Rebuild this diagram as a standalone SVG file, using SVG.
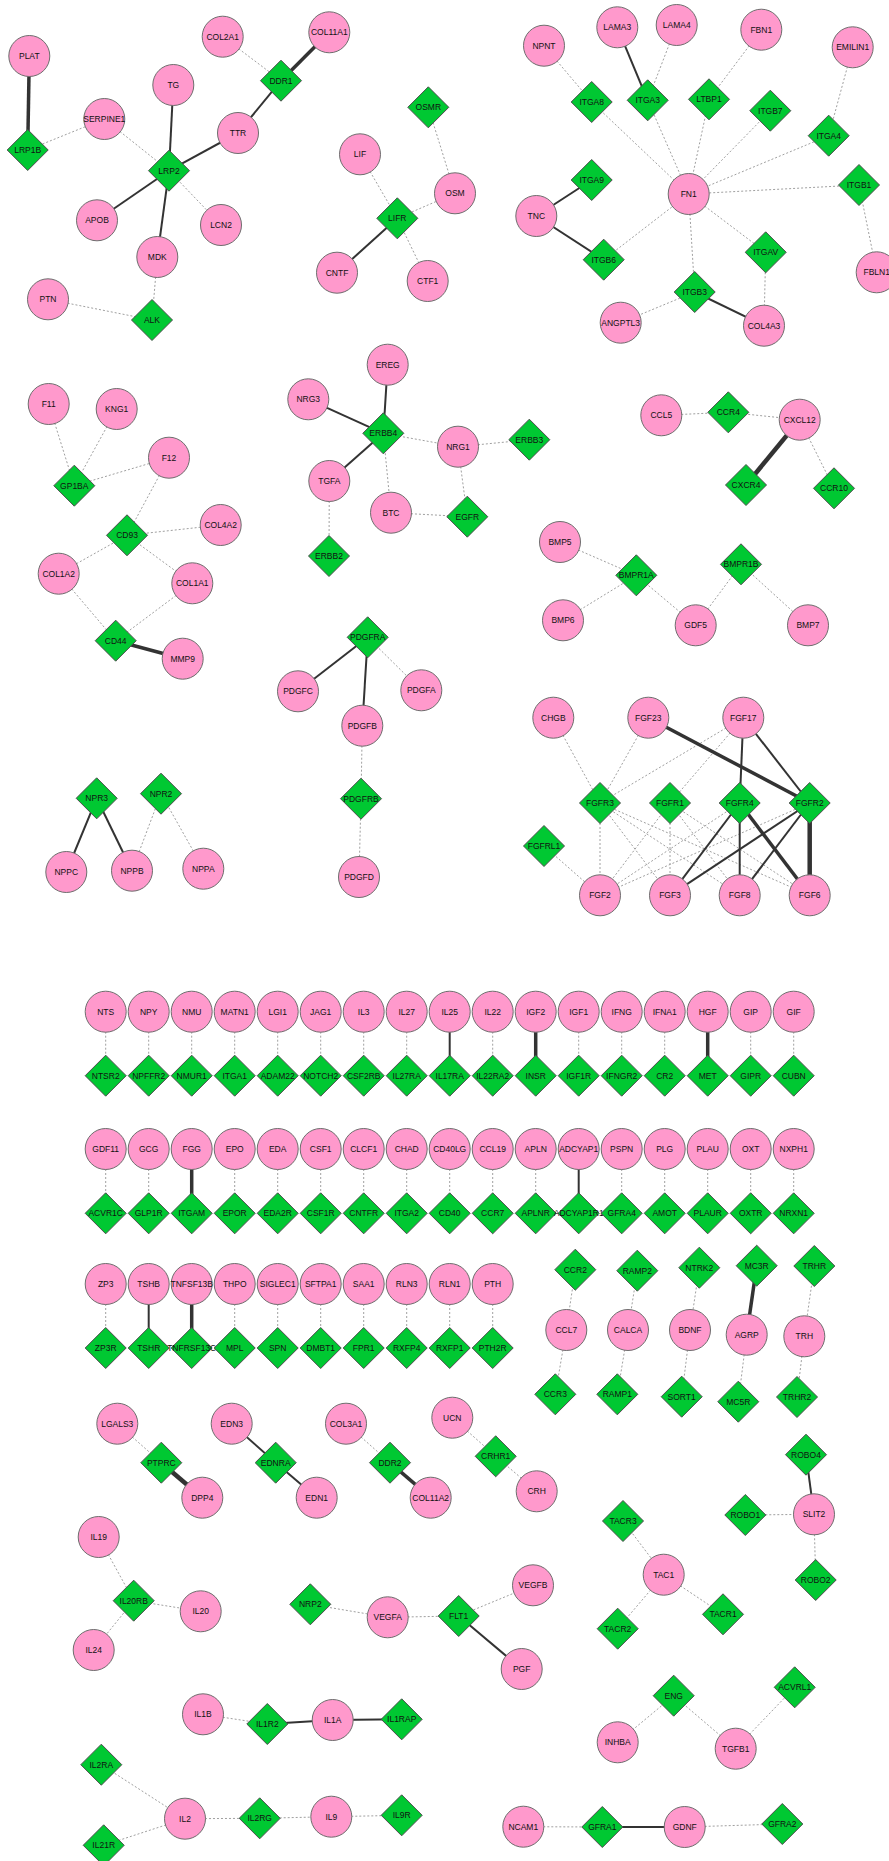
<svg xmlns="http://www.w3.org/2000/svg" xmlns:xlink="http://www.w3.org/1999/xlink" width="889" height="1861" viewBox="0 0 889 1861">
<style>
.bg{fill:#ffffff}
#edges line{stroke-linecap:butt}
.d{stroke:#a0a0a0;stroke-width:1;stroke-dasharray:2 2;fill:none}
.s{stroke:#333333;stroke-width:2;fill:none}
.t{stroke:#333333;stroke-width:3.5;fill:none}
.x{stroke:#333333;stroke-width:4.5;fill:none}
circle{fill:#ff99cc;stroke:#6e6e6e;stroke-width:1}
.r{fill:#00c832;stroke:#4d4d4d;stroke-width:1}
text{font-family:"Liberation Sans",Arial,sans-serif;font-size:8.5px;text-anchor:middle;fill:#111111}
</style>
<defs>
<path id="dia" d="M0,-20.5 L20.5,0 L0,20.5 L-20.5,0 Z"/>
</defs>
<rect class="bg" x="0" y="0" width="889" height="1861"/>

<g id="edges">
<!-- LRP2 / DDR1 / LIFR cluster -->
<line class="t" x1="29.3" y1="56" x2="27.7" y2="150"/>
<line class="d" x1="27.7" y1="150" x2="104.3" y2="119"/>
<line class="d" x1="104.3" y1="119" x2="169" y2="170.7"/>
<line class="s" x1="173.3" y1="85" x2="169" y2="170.7"/>
<line class="s" x1="238" y1="133" x2="169" y2="170.7"/>
<line class="s" x1="238" y1="133" x2="281" y2="80.7"/>
<line class="t" x1="281" y1="80.7" x2="329.3" y2="32.3"/>
<line class="d" x1="222.7" y1="36.7" x2="281" y2="80.7"/>
<line class="s" x1="169" y1="170.7" x2="97" y2="220.3"/>
<line class="d" x1="169" y1="170.7" x2="221" y2="225"/>
<line class="s" x1="169" y1="170.7" x2="157.3" y2="257"/>
<line class="d" x1="157.3" y1="257" x2="152" y2="320"/>
<line class="d" x1="48" y1="299.3" x2="152" y2="320"/>
<line class="d" x1="360" y1="154.3" x2="397.3" y2="218.3"/>
<line class="d" x1="397.3" y1="218.3" x2="455" y2="193.3"/>
<line class="d" x1="428.3" y1="107.3" x2="455" y2="193.3"/>
<line class="s" x1="397.3" y1="218.3" x2="337" y2="272.7"/>
<line class="d" x1="397.3" y1="218.3" x2="427.7" y2="281"/>
<!-- FN1 cluster -->
<line class="d" x1="544" y1="45.7" x2="591.7" y2="102"/>
<line class="d" x1="591.7" y1="102" x2="688.7" y2="194"/>
<line class="s" x1="617.3" y1="27.3" x2="647.7" y2="100.3"/>
<line class="d" x1="676.7" y1="25" x2="647.7" y2="100.3"/>
<line class="d" x1="647.7" y1="100.3" x2="688.7" y2="194"/>
<line class="d" x1="761.3" y1="29.7" x2="709" y2="99.3"/>
<line class="d" x1="709" y1="99.3" x2="688.7" y2="194"/>
<line class="d" x1="770.3" y1="110.7" x2="688.7" y2="194"/>
<line class="d" x1="852.7" y1="47.3" x2="828.7" y2="135.7"/>
<line class="d" x1="828.7" y1="135.7" x2="688.7" y2="194"/>
<line class="d" x1="859" y1="185" x2="688.7" y2="194"/>
<line class="d" x1="859" y1="185" x2="876.7" y2="272.3"/>
<line class="s" x1="591.7" y1="180" x2="536.3" y2="216"/>
<line class="s" x1="536.3" y1="216" x2="603.7" y2="259.7"/>
<line class="d" x1="603.7" y1="259.7" x2="688.7" y2="194"/>
<line class="d" x1="688.7" y1="194" x2="765.7" y2="252.3"/>
<line class="d" x1="688.7" y1="194" x2="694.7" y2="292"/>
<line class="d" x1="765.7" y1="252.3" x2="764" y2="325.7"/>
<line class="s" x1="694.7" y1="292" x2="764" y2="325.7"/>
<line class="d" x1="694.7" y1="292" x2="620.7" y2="322.7"/>
<!-- GP1BA / CD93 / CD44 -->
<line class="d" x1="48.7" y1="404" x2="74.3" y2="485.7"/>
<line class="d" x1="116.7" y1="409" x2="74.3" y2="485.7"/>
<line class="d" x1="74.3" y1="485.7" x2="169" y2="457.7"/>
<line class="d" x1="169" y1="457.7" x2="127" y2="535.3"/>
<line class="d" x1="127" y1="535.3" x2="220.7" y2="525"/>
<line class="d" x1="127" y1="535.3" x2="58.7" y2="573.7"/>
<line class="d" x1="127" y1="535.3" x2="192.3" y2="583.3"/>
<line class="d" x1="58.7" y1="573.7" x2="115.7" y2="640.7"/>
<line class="d" x1="192.3" y1="583.3" x2="115.7" y2="640.7"/>
<line class="t" x1="115.7" y1="640.7" x2="182.7" y2="658.7"/>
<!-- ERBB -->
<line class="s" x1="387.7" y1="364.7" x2="383.3" y2="433.3"/>
<line class="s" x1="308.3" y1="399.3" x2="383.3" y2="433.3"/>
<line class="s" x1="383.3" y1="433.3" x2="329.3" y2="481"/>
<line class="d" x1="383.3" y1="433.3" x2="458" y2="446.7"/>
<line class="d" x1="383.3" y1="433.3" x2="391" y2="512.7"/>
<line class="d" x1="329.3" y1="481" x2="329" y2="556"/>
<line class="d" x1="391" y1="512.7" x2="467.3" y2="516.7"/>
<line class="d" x1="458" y1="446.7" x2="529.3" y2="439.7"/>
<line class="d" x1="458" y1="446.7" x2="467.3" y2="516.7"/>
<!-- PDGF -->
<line class="s" x1="367.7" y1="637.3" x2="298" y2="691.3"/>
<line class="s" x1="367.7" y1="637.3" x2="362.3" y2="725.7"/>
<line class="d" x1="367.7" y1="637.3" x2="421.3" y2="690.3"/>
<line class="d" x1="362.3" y1="725.7" x2="361" y2="798.7"/>
<line class="d" x1="361" y1="798.7" x2="359" y2="877"/>
<!-- NPR -->
<line class="s" x1="96.7" y1="798.3" x2="66.3" y2="872"/>
<line class="s" x1="96.7" y1="798.3" x2="132" y2="870.7"/>
<line class="d" x1="161" y1="793.7" x2="132" y2="870.7"/>
<line class="d" x1="161" y1="793.7" x2="203.3" y2="868.7"/>
<!-- chemokines -->
<line class="d" x1="661.3" y1="415.3" x2="728.3" y2="412.3"/>
<line class="d" x1="728.3" y1="412.3" x2="799.7" y2="419.7"/>
<line class="x" x1="799.7" y1="419.7" x2="746" y2="485"/>
<line class="d" x1="799.7" y1="419.7" x2="834" y2="488.3"/>
<!-- BMP -->
<line class="d" x1="560" y1="542" x2="636.3" y2="575.3"/>
<line class="d" x1="636.3" y1="575.3" x2="563" y2="620.3"/>
<line class="d" x1="636.3" y1="575.3" x2="695.7" y2="625.3"/>
<line class="d" x1="695.7" y1="625.3" x2="741" y2="564.3"/>
<line class="d" x1="741" y1="564.3" x2="808" y2="625.3"/>
<!-- FGF -->
<line class="d" x1="553.3" y1="717.7" x2="600" y2="803"/>
<line class="d" x1="648.3" y1="717.7" x2="600" y2="803"/>
<line class="d" x1="743.3" y1="717.7" x2="600" y2="803"/>
<line class="d" x1="743.3" y1="717.7" x2="670" y2="803"/>
<line class="d" x1="600" y1="803" x2="600" y2="895.3"/>
<line class="d" x1="600" y1="803" x2="670" y2="895.3"/>
<line class="d" x1="600" y1="803" x2="739.7" y2="895.3"/>
<line class="d" x1="600" y1="803" x2="809.7" y2="895.3"/>
<line class="d" x1="670" y1="803" x2="600" y2="895.3"/>
<line class="d" x1="670" y1="803" x2="670" y2="895.3"/>
<line class="d" x1="670" y1="803" x2="739.7" y2="895.3"/>
<line class="d" x1="670" y1="803" x2="809.7" y2="895.3"/>
<line class="d" x1="739.7" y1="803" x2="600" y2="895.3"/>
<line class="d" x1="809.7" y1="803" x2="600" y2="895.3"/>
<line class="d" x1="544" y1="846" x2="600" y2="895.3"/>
<line class="t" x1="648.3" y1="717.7" x2="809.7" y2="803"/>
<line class="s" x1="743.3" y1="717.7" x2="739.7" y2="803"/>
<line class="s" x1="743.3" y1="717.7" x2="809.7" y2="803"/>
<line class="s" x1="739.7" y1="803" x2="670" y2="895.3"/>
<line class="s" x1="739.7" y1="803" x2="739.7" y2="895.3"/>
<line class="t" x1="739.7" y1="803" x2="809.7" y2="895.3"/>
<line class="s" x1="809.7" y1="803" x2="670" y2="895.3"/>
<line class="s" x1="809.7" y1="803" x2="739.7" y2="895.3"/>
<line class="x" x1="809.7" y1="803" x2="809.7" y2="895.3"/>
<!-- ligand / receptor rows -->
<line class="d" x1="105.7" y1="1011.7" x2="105.7" y2="1075.7"/>
<line class="d" x1="148.7" y1="1011.7" x2="148.7" y2="1075.7"/>
<line class="d" x1="191.7" y1="1011.7" x2="191.7" y2="1075.7"/>
<line class="d" x1="234.7" y1="1011.7" x2="234.7" y2="1075.7"/>
<line class="d" x1="277.7" y1="1011.7" x2="277.7" y2="1075.7"/>
<line class="d" x1="320.7" y1="1011.7" x2="320.7" y2="1075.7"/>
<line class="d" x1="363.7" y1="1011.7" x2="363.7" y2="1075.7"/>
<line class="d" x1="406.7" y1="1011.7" x2="406.7" y2="1075.7"/>
<line class="s" x1="449.7" y1="1011.7" x2="449.7" y2="1075.7"/>
<line class="d" x1="492.7" y1="1011.7" x2="492.7" y2="1075.7"/>
<line class="t" x1="535.7" y1="1011.7" x2="535.7" y2="1075.7"/>
<line class="d" x1="578.7" y1="1011.7" x2="578.7" y2="1075.7"/>
<line class="d" x1="621.7" y1="1011.7" x2="621.7" y2="1075.7"/>
<line class="d" x1="664.7" y1="1011.7" x2="664.7" y2="1075.7"/>
<line class="t" x1="707.7" y1="1011.7" x2="707.7" y2="1075.7"/>
<line class="d" x1="750.7" y1="1011.7" x2="750.7" y2="1075.7"/>
<line class="d" x1="793.7" y1="1011.7" x2="793.7" y2="1075.7"/>

<line class="d" x1="105.7" y1="1149" x2="105.7" y2="1213.3"/>
<line class="d" x1="148.7" y1="1149" x2="148.7" y2="1213.3"/>
<line class="t" x1="191.7" y1="1149" x2="191.7" y2="1213.3"/>
<line class="d" x1="234.7" y1="1149" x2="234.7" y2="1213.3"/>
<line class="d" x1="277.7" y1="1149" x2="277.7" y2="1213.3"/>
<line class="d" x1="320.7" y1="1149" x2="320.7" y2="1213.3"/>
<line class="d" x1="363.7" y1="1149" x2="363.7" y2="1213.3"/>
<line class="d" x1="406.7" y1="1149" x2="406.7" y2="1213.3"/>
<line class="d" x1="449.7" y1="1149" x2="449.7" y2="1213.3"/>
<line class="d" x1="492.7" y1="1149" x2="492.7" y2="1213.3"/>
<line class="d" x1="535.7" y1="1149" x2="535.7" y2="1213.3"/>
<line class="s" x1="578.7" y1="1149" x2="578.7" y2="1213.3"/>
<line class="d" x1="621.7" y1="1149" x2="621.7" y2="1213.3"/>
<line class="d" x1="664.7" y1="1149" x2="664.7" y2="1213.3"/>
<line class="d" x1="707.7" y1="1149" x2="707.7" y2="1213.3"/>
<line class="d" x1="750.7" y1="1149" x2="750.7" y2="1213.3"/>
<line class="d" x1="793.7" y1="1149" x2="793.7" y2="1213.3"/>

<line class="d" x1="105.7" y1="1284" x2="105.7" y2="1348"/>
<line class="s" x1="148.7" y1="1284" x2="148.7" y2="1348"/>
<line class="t" x1="191.7" y1="1284" x2="191.7" y2="1348"/>
<line class="d" x1="234.7" y1="1284" x2="234.7" y2="1348"/>
<line class="d" x1="277.7" y1="1284" x2="277.7" y2="1348"/>
<line class="d" x1="320.7" y1="1284" x2="320.7" y2="1348"/>
<line class="d" x1="363.7" y1="1284" x2="363.7" y2="1348"/>
<line class="d" x1="406.7" y1="1284" x2="406.7" y2="1348"/>
<line class="d" x1="449.7" y1="1284" x2="449.7" y2="1348"/>
<line class="d" x1="492.7" y1="1284" x2="492.7" y2="1348"/>
<!-- lower small clusters -->
<line class="d" x1="117.3" y1="1423.7" x2="161.3" y2="1462.7"/>
<line class="x" x1="161.3" y1="1462.7" x2="202.3" y2="1497.7"/>
<line class="s" x1="231.7" y1="1423.7" x2="275.7" y2="1462.7"/>
<line class="s" x1="275.7" y1="1462.7" x2="316.7" y2="1497.7"/>
<line class="d" x1="346" y1="1423.7" x2="390" y2="1462.7"/>
<line class="t" x1="390" y1="1462.7" x2="430.7" y2="1497.7"/>
<line class="d" x1="452.3" y1="1417.7" x2="495.7" y2="1456.3"/>
<line class="d" x1="495.7" y1="1456.3" x2="536.7" y2="1491.3"/>
<line class="d" x1="575.3" y1="1269.7" x2="566.3" y2="1330"/>
<line class="d" x1="566.3" y1="1330" x2="555.3" y2="1394.3"/>
<line class="d" x1="637.3" y1="1270.7" x2="628" y2="1330"/>
<line class="d" x1="628" y1="1330" x2="617.3" y2="1394.3"/>
<line class="d" x1="699.3" y1="1267.7" x2="690" y2="1330"/>
<line class="d" x1="690" y1="1330" x2="681.7" y2="1396.7"/>
<line class="t" x1="756.7" y1="1265.7" x2="746.7" y2="1334.7"/>
<line class="d" x1="746.7" y1="1334.7" x2="738.3" y2="1401.7"/>
<line class="d" x1="814.3" y1="1266" x2="804.3" y2="1336.3"/>
<line class="d" x1="804.3" y1="1336.3" x2="797" y2="1397"/>
<line class="s" x1="806" y1="1454.7" x2="814" y2="1514.3"/>
<line class="d" x1="745.3" y1="1515" x2="814" y2="1514.3"/>
<line class="d" x1="814" y1="1514.3" x2="815.7" y2="1580"/>
<line class="d" x1="623" y1="1521" x2="663.7" y2="1574.7"/>
<line class="d" x1="663.7" y1="1574.7" x2="617.7" y2="1628.7"/>
<line class="d" x1="663.7" y1="1574.7" x2="723" y2="1614.3"/>
<line class="d" x1="98.7" y1="1537" x2="133.7" y2="1600.7"/>
<line class="d" x1="133.7" y1="1600.7" x2="200.7" y2="1611.3"/>
<line class="d" x1="133.7" y1="1600.7" x2="93.7" y2="1650"/>
<line class="d" x1="310.3" y1="1604.3" x2="387.7" y2="1617.3"/>
<line class="d" x1="387.7" y1="1617.3" x2="458.7" y2="1616"/>
<line class="d" x1="458.7" y1="1616" x2="533" y2="1585.3"/>
<line class="s" x1="458.7" y1="1616" x2="521.7" y2="1669"/>
<line class="d" x1="203" y1="1714.3" x2="267.3" y2="1724"/>
<line class="s" x1="267.3" y1="1724" x2="332.7" y2="1720"/>
<line class="s" x1="332.7" y1="1720" x2="401.7" y2="1719.3"/>
<line class="d" x1="101.3" y1="1764.7" x2="185" y2="1818.7"/>
<line class="d" x1="185" y1="1818.7" x2="103.7" y2="1845.3"/>
<line class="d" x1="185" y1="1818.7" x2="259.7" y2="1818.3"/>
<line class="d" x1="259.7" y1="1818.3" x2="331.3" y2="1816.7"/>
<line class="d" x1="331.3" y1="1816.7" x2="401.7" y2="1815.3"/>
<line class="d" x1="673.7" y1="1695.7" x2="617.7" y2="1742.3"/>
<line class="d" x1="673.7" y1="1695.7" x2="735.7" y2="1748.7"/>
<line class="d" x1="735.7" y1="1748.7" x2="794.7" y2="1687.3"/>
<line class="d" x1="523.3" y1="1826.7" x2="602.3" y2="1827"/>
<line class="s" x1="602.3" y1="1827" x2="684.7" y2="1827"/>
<line class="d" x1="684.7" y1="1827" x2="782.3" y2="1824"/>
</g>

<g id="nodes">
<!-- ligands (circles) -->
<g id="n_PLAT"><circle cx="29.3" cy="56" r="20.5"/><text x="29.3" y="59">PLAT</text></g>
<g id="n_COL2A1"><circle cx="222.7" cy="36.7" r="20.5"/><text x="222.7" y="39.7">COL2A1</text></g>
<g id="n_COL11A1"><circle cx="329.3" cy="32.3" r="20.5"/><text x="329.3" y="35.3">COL11A1</text></g>
<g id="n_TG"><circle cx="173.3" cy="85" r="20.5"/><text x="173.3" y="88">TG</text></g>
<g id="n_SERPINE1"><circle cx="104.3" cy="119" r="20.5"/><text x="104.3" y="122">SERPINE1</text></g>
<g id="n_TTR"><circle cx="238" cy="133" r="20.5"/><text x="238" y="136">TTR</text></g>
<g id="n_LIF"><circle cx="360" cy="154.3" r="20.5"/><text x="360" y="157.3">LIF</text></g>
<g id="n_OSM"><circle cx="455" cy="193.3" r="20.5"/><text x="455" y="196.3">OSM</text></g>
<g id="n_APOB"><circle cx="97" cy="220.3" r="20.5"/><text x="97" y="223.3">APOB</text></g>
<g id="n_LCN2"><circle cx="221" cy="225" r="20.5"/><text x="221" y="228">LCN2</text></g>
<g id="n_MDK"><circle cx="157.3" cy="257" r="20.5"/><text x="157.3" y="260">MDK</text></g>
<g id="n_CNTF"><circle cx="337" cy="272.7" r="20.5"/><text x="337" y="275.7">CNTF</text></g>
<g id="n_CTF1"><circle cx="427.7" cy="281" r="20.5"/><text x="427.7" y="284">CTF1</text></g>
<g id="n_PTN"><circle cx="48" cy="299.3" r="20.5"/><text x="48" y="302.3">PTN</text></g>
<g id="n_NPNT"><circle cx="544" cy="45.7" r="20.5"/><text x="544" y="48.7">NPNT</text></g>
<g id="n_LAMA3"><circle cx="617.3" cy="27.3" r="20.5"/><text x="617.3" y="30.3">LAMA3</text></g>
<g id="n_LAMA4"><circle cx="676.7" cy="25" r="20.5"/><text x="676.7" y="28">LAMA4</text></g>
<g id="n_FBN1"><circle cx="761.3" cy="29.7" r="20.5"/><text x="761.3" y="32.7">FBN1</text></g>
<g id="n_EMILIN1"><circle cx="852.7" cy="47.3" r="20.5"/><text x="852.7" y="50.3">EMILIN1</text></g>
<g id="n_FN1"><circle cx="688.7" cy="194" r="20.5"/><text x="688.7" y="197">FN1</text></g>
<g id="n_TNC"><circle cx="536.3" cy="216" r="20.5"/><text x="536.3" y="219">TNC</text></g>
<g id="n_FBLN1"><circle cx="876.7" cy="272.3" r="20.5"/><text x="876.7" y="275.3">FBLN1</text></g>
<g id="n_ANGPTL3"><circle cx="620.7" cy="322.7" r="20.5"/><text x="620.7" y="325.7">ANGPTL3</text></g>
<g id="n_COL4A3"><circle cx="764" cy="325.7" r="20.5"/><text x="764" y="328.7">COL4A3</text></g>
<g id="n_F11"><circle cx="48.7" cy="404" r="20.5"/><text x="48.7" y="407">F11</text></g>
<g id="n_KNG1"><circle cx="116.7" cy="409" r="20.5"/><text x="116.7" y="412">KNG1</text></g>
<g id="n_F12"><circle cx="169" cy="457.7" r="20.5"/><text x="169" y="460.7">F12</text></g>
<g id="n_COL4A2"><circle cx="220.7" cy="525" r="20.5"/><text x="220.7" y="528">COL4A2</text></g>
<g id="n_COL1A2"><circle cx="58.7" cy="573.7" r="20.5"/><text x="58.7" y="576.7">COL1A2</text></g>
<g id="n_COL1A1"><circle cx="192.3" cy="583.3" r="20.5"/><text x="192.3" y="586.3">COL1A1</text></g>
<g id="n_MMP9"><circle cx="182.7" cy="658.7" r="20.5"/><text x="182.7" y="661.7">MMP9</text></g>
<g id="n_EREG"><circle cx="387.7" cy="364.7" r="20.5"/><text x="387.7" y="367.7">EREG</text></g>
<g id="n_NRG3"><circle cx="308.3" cy="399.3" r="20.5"/><text x="308.3" y="402.3">NRG3</text></g>
<g id="n_TGFA"><circle cx="329.3" cy="481" r="20.5"/><text x="329.3" y="484">TGFA</text></g>
<g id="n_BTC"><circle cx="391" cy="512.7" r="20.5"/><text x="391" y="515.7">BTC</text></g>
<g id="n_NRG1"><circle cx="458" cy="446.7" r="20.5"/><text x="458" y="449.7">NRG1</text></g>
<g id="n_CCL5"><circle cx="661.3" cy="415.3" r="20.5"/><text x="661.3" y="418.3">CCL5</text></g>
<g id="n_CXCL12"><circle cx="799.7" cy="419.7" r="20.5"/><text x="799.7" y="422.7">CXCL12</text></g>
<g id="n_BMP5"><circle cx="560" cy="542" r="20.5"/><text x="560" y="545">BMP5</text></g>
<g id="n_BMP6"><circle cx="563" cy="620.3" r="20.5"/><text x="563" y="623.3">BMP6</text></g>
<g id="n_GDF5"><circle cx="695.7" cy="625.3" r="20.5"/><text x="695.7" y="628.3">GDF5</text></g>
<g id="n_BMP7"><circle cx="808" cy="625.3" r="20.5"/><text x="808" y="628.3">BMP7</text></g>
<g id="n_PDGFC"><circle cx="298" cy="691.3" r="20.5"/><text x="298" y="694.3">PDGFC</text></g>
<g id="n_PDGFA"><circle cx="421.3" cy="690.3" r="20.5"/><text x="421.3" y="693.3">PDGFA</text></g>
<g id="n_PDGFB"><circle cx="362.3" cy="725.7" r="20.5"/><text x="362.3" y="728.7">PDGFB</text></g>
<g id="n_PDGFD"><circle cx="359" cy="877" r="20.5"/><text x="359" y="880">PDGFD</text></g>
<g id="n_NPPC"><circle cx="66.3" cy="872" r="20.5"/><text x="66.3" y="875">NPPC</text></g>
<g id="n_NPPB"><circle cx="132" cy="870.7" r="20.5"/><text x="132" y="873.7">NPPB</text></g>
<g id="n_NPPA"><circle cx="203.3" cy="868.7" r="20.5"/><text x="203.3" y="871.7">NPPA</text></g>
<g id="n_CHGB"><circle cx="553.3" cy="717.7" r="20.5"/><text x="553.3" y="720.7">CHGB</text></g>
<g id="n_FGF23"><circle cx="648.3" cy="717.7" r="20.5"/><text x="648.3" y="720.7">FGF23</text></g>
<g id="n_FGF17"><circle cx="743.3" cy="717.7" r="20.5"/><text x="743.3" y="720.7">FGF17</text></g>
<g id="n_FGF2"><circle cx="600" cy="895.3" r="20.5"/><text x="600" y="898.3">FGF2</text></g>
<g id="n_FGF3"><circle cx="670" cy="895.3" r="20.5"/><text x="670" y="898.3">FGF3</text></g>
<g id="n_FGF8"><circle cx="739.7" cy="895.3" r="20.5"/><text x="739.7" y="898.3">FGF8</text></g>
<g id="n_FGF6"><circle cx="809.7" cy="895.3" r="20.5"/><text x="809.7" y="898.3">FGF6</text></g>

<g id="n_NTS"><circle cx="105.7" cy="1011.7" r="20.5"/><text x="105.7" y="1014.7">NTS</text></g>
<g id="n_NPY"><circle cx="148.7" cy="1011.7" r="20.5"/><text x="148.7" y="1014.7">NPY</text></g>
<g id="n_NMU"><circle cx="191.7" cy="1011.7" r="20.5"/><text x="191.7" y="1014.7">NMU</text></g>
<g id="n_MATN1"><circle cx="234.7" cy="1011.7" r="20.5"/><text x="234.7" y="1014.7">MATN1</text></g>
<g id="n_LGI1"><circle cx="277.7" cy="1011.7" r="20.5"/><text x="277.7" y="1014.7">LGI1</text></g>
<g id="n_JAG1"><circle cx="320.7" cy="1011.7" r="20.5"/><text x="320.7" y="1014.7">JAG1</text></g>
<g id="n_IL3"><circle cx="363.7" cy="1011.7" r="20.5"/><text x="363.7" y="1014.7">IL3</text></g>
<g id="n_IL27"><circle cx="406.7" cy="1011.7" r="20.5"/><text x="406.7" y="1014.7">IL27</text></g>
<g id="n_IL25"><circle cx="449.7" cy="1011.7" r="20.5"/><text x="449.7" y="1014.7">IL25</text></g>
<g id="n_IL22"><circle cx="492.7" cy="1011.7" r="20.5"/><text x="492.7" y="1014.7">IL22</text></g>
<g id="n_IGF2"><circle cx="535.7" cy="1011.7" r="20.5"/><text x="535.7" y="1014.7">IGF2</text></g>
<g id="n_IGF1"><circle cx="578.7" cy="1011.7" r="20.5"/><text x="578.7" y="1014.7">IGF1</text></g>
<g id="n_IFNG"><circle cx="621.7" cy="1011.7" r="20.5"/><text x="621.7" y="1014.7">IFNG</text></g>
<g id="n_IFNA1"><circle cx="664.7" cy="1011.7" r="20.5"/><text x="664.7" y="1014.7">IFNA1</text></g>
<g id="n_HGF"><circle cx="707.7" cy="1011.7" r="20.5"/><text x="707.7" y="1014.7">HGF</text></g>
<g id="n_GIP"><circle cx="750.7" cy="1011.7" r="20.5"/><text x="750.7" y="1014.7">GIP</text></g>
<g id="n_GIF"><circle cx="793.7" cy="1011.7" r="20.5"/><text x="793.7" y="1014.7">GIF</text></g>

<g id="n_GDF11"><circle cx="105.7" cy="1149" r="20.5"/><text x="105.7" y="1152">GDF11</text></g>
<g id="n_GCG"><circle cx="148.7" cy="1149" r="20.5"/><text x="148.7" y="1152">GCG</text></g>
<g id="n_FGG"><circle cx="191.7" cy="1149" r="20.5"/><text x="191.7" y="1152">FGG</text></g>
<g id="n_EPO"><circle cx="234.7" cy="1149" r="20.5"/><text x="234.7" y="1152">EPO</text></g>
<g id="n_EDA"><circle cx="277.7" cy="1149" r="20.5"/><text x="277.7" y="1152">EDA</text></g>
<g id="n_CSF1"><circle cx="320.7" cy="1149" r="20.5"/><text x="320.7" y="1152">CSF1</text></g>
<g id="n_CLCF1"><circle cx="363.7" cy="1149" r="20.5"/><text x="363.7" y="1152">CLCF1</text></g>
<g id="n_CHAD"><circle cx="406.7" cy="1149" r="20.5"/><text x="406.7" y="1152">CHAD</text></g>
<g id="n_CD40LG"><circle cx="449.7" cy="1149" r="20.5"/><text x="449.7" y="1152">CD40LG</text></g>
<g id="n_CCL19"><circle cx="492.7" cy="1149" r="20.5"/><text x="492.7" y="1152">CCL19</text></g>
<g id="n_APLN"><circle cx="535.7" cy="1149" r="20.5"/><text x="535.7" y="1152">APLN</text></g>
<g id="n_ADCYAP1"><circle cx="578.7" cy="1149" r="20.5"/><text x="578.7" y="1152">ADCYAP1</text></g>
<g id="n_PSPN"><circle cx="621.7" cy="1149" r="20.5"/><text x="621.7" y="1152">PSPN</text></g>
<g id="n_PLG"><circle cx="664.7" cy="1149" r="20.5"/><text x="664.7" y="1152">PLG</text></g>
<g id="n_PLAU"><circle cx="707.7" cy="1149" r="20.5"/><text x="707.7" y="1152">PLAU</text></g>
<g id="n_OXT"><circle cx="750.7" cy="1149" r="20.5"/><text x="750.7" y="1152">OXT</text></g>
<g id="n_NXPH1"><circle cx="793.7" cy="1149" r="20.5"/><text x="793.7" y="1152">NXPH1</text></g>

<g id="n_ZP3"><circle cx="105.7" cy="1284" r="20.5"/><text x="105.7" y="1287">ZP3</text></g>
<g id="n_TSHB"><circle cx="148.7" cy="1284" r="20.5"/><text x="148.7" y="1287">TSHB</text></g>
<g id="n_TNFSF13B"><circle cx="191.7" cy="1284" r="20.5"/><text x="191.7" y="1287">TNFSF13B</text></g>
<g id="n_THPO"><circle cx="234.7" cy="1284" r="20.5"/><text x="234.7" y="1287">THPO</text></g>
<g id="n_SIGLEC1"><circle cx="277.7" cy="1284" r="20.5"/><text x="277.7" y="1287">SIGLEC1</text></g>
<g id="n_SFTPA1"><circle cx="320.7" cy="1284" r="20.5"/><text x="320.7" y="1287">SFTPA1</text></g>
<g id="n_SAA1"><circle cx="363.7" cy="1284" r="20.5"/><text x="363.7" y="1287">SAA1</text></g>
<g id="n_RLN3"><circle cx="406.7" cy="1284" r="20.5"/><text x="406.7" y="1287">RLN3</text></g>
<g id="n_RLN1"><circle cx="449.7" cy="1284" r="20.5"/><text x="449.7" y="1287">RLN1</text></g>
<g id="n_PTH"><circle cx="492.7" cy="1284" r="20.5"/><text x="492.7" y="1287">PTH</text></g>

<g id="n_LGALS3"><circle cx="117.3" cy="1423.7" r="20.5"/><text x="117.3" y="1426.7">LGALS3</text></g>
<g id="n_DPP4"><circle cx="202.3" cy="1497.7" r="20.5"/><text x="202.3" y="1500.7">DPP4</text></g>
<g id="n_EDN3"><circle cx="231.7" cy="1423.7" r="20.5"/><text x="231.7" y="1426.7">EDN3</text></g>
<g id="n_EDN1"><circle cx="316.7" cy="1497.7" r="20.5"/><text x="316.7" y="1500.7">EDN1</text></g>
<g id="n_COL3A1"><circle cx="346" cy="1423.7" r="20.5"/><text x="346" y="1426.7">COL3A1</text></g>
<g id="n_COL11A2"><circle cx="430.7" cy="1497.7" r="20.5"/><text x="430.7" y="1500.7">COL11A2</text></g>
<g id="n_UCN"><circle cx="452.3" cy="1417.7" r="20.5"/><text x="452.3" y="1420.7">UCN</text></g>
<g id="n_CRH"><circle cx="536.7" cy="1491.3" r="20.5"/><text x="536.7" y="1494.3">CRH</text></g>
<g id="n_CCL7"><circle cx="566.3" cy="1330" r="20.5"/><text x="566.3" y="1333">CCL7</text></g>
<g id="n_CALCA"><circle cx="628" cy="1330" r="20.5"/><text x="628" y="1333">CALCA</text></g>
<g id="n_BDNF"><circle cx="690" cy="1330" r="20.5"/><text x="690" y="1333">BDNF</text></g>
<g id="n_AGRP"><circle cx="746.7" cy="1334.7" r="20.5"/><text x="746.7" y="1337.7">AGRP</text></g>
<g id="n_TRH"><circle cx="804.3" cy="1336.3" r="20.5"/><text x="804.3" y="1339.3">TRH</text></g>
<g id="n_SLIT2"><circle cx="814" cy="1514.3" r="20.5"/><text x="814" y="1517.3">SLIT2</text></g>
<g id="n_TAC1"><circle cx="663.7" cy="1574.7" r="20.5"/><text x="663.7" y="1577.7">TAC1</text></g>
<g id="n_IL19"><circle cx="98.7" cy="1537" r="20.5"/><text x="98.7" y="1540">IL19</text></g>
<g id="n_IL20"><circle cx="200.7" cy="1611.3" r="20.5"/><text x="200.7" y="1614.3">IL20</text></g>
<g id="n_IL24"><circle cx="93.7" cy="1650" r="20.5"/><text x="93.7" y="1653">IL24</text></g>
<g id="n_VEGFA"><circle cx="387.7" cy="1617.3" r="20.5"/><text x="387.7" y="1620.3">VEGFA</text></g>
<g id="n_VEGFB"><circle cx="533" cy="1585.3" r="20.5"/><text x="533" y="1588.3">VEGFB</text></g>
<g id="n_PGF"><circle cx="521.7" cy="1669" r="20.5"/><text x="521.7" y="1672">PGF</text></g>
<g id="n_IL1B"><circle cx="203" cy="1714.3" r="20.5"/><text x="203" y="1717.3">IL1B</text></g>
<g id="n_IL1A"><circle cx="332.7" cy="1720" r="20.5"/><text x="332.7" y="1723">IL1A</text></g>
<g id="n_IL2"><circle cx="185" cy="1818.7" r="20.5"/><text x="185" y="1821.7">IL2</text></g>
<g id="n_IL9"><circle cx="331.3" cy="1816.7" r="20.5"/><text x="331.3" y="1819.7">IL9</text></g>
<g id="n_INHBA"><circle cx="617.7" cy="1742.3" r="20.5"/><text x="617.7" y="1745.3">INHBA</text></g>
<g id="n_TGFB1"><circle cx="735.7" cy="1748.7" r="20.5"/><text x="735.7" y="1751.7">TGFB1</text></g>
<g id="n_NCAM1"><circle cx="523.3" cy="1826.7" r="20.5"/><text x="523.3" y="1829.7">NCAM1</text></g>
<g id="n_GDNF"><circle cx="684.7" cy="1827" r="20.5"/><text x="684.7" y="1830">GDNF</text></g>

<!-- receptors (diamonds) -->
<g id="n_DDR1"><use class="r" href="#dia" x="281" y="80.7"/><text x="281" y="83.7">DDR1</text></g>
<g id="n_OSMR"><use class="r" href="#dia" x="428.3" y="107.3"/><text x="428.3" y="110.3">OSMR</text></g>
<g id="n_LRP1B"><use class="r" href="#dia" x="27.7" y="150"/><text x="27.7" y="153">LRP1B</text></g>
<g id="n_LRP2"><use class="r" href="#dia" x="169" y="170.7"/><text x="169" y="173.7">LRP2</text></g>
<g id="n_LIFR"><use class="r" href="#dia" x="397.3" y="218.3"/><text x="397.3" y="221.3">LIFR</text></g>
<g id="n_ALK"><use class="r" href="#dia" x="152" y="320"/><text x="152" y="323">ALK</text></g>
<g id="n_ITGA8"><use class="r" href="#dia" x="591.7" y="102"/><text x="591.7" y="105">ITGA8</text></g>
<g id="n_ITGA3"><use class="r" href="#dia" x="647.7" y="100.3"/><text x="647.7" y="103.3">ITGA3</text></g>
<g id="n_LTBP1"><use class="r" href="#dia" x="709" y="99.3"/><text x="709" y="102.3">LTBP1</text></g>
<g id="n_ITGB7"><use class="r" href="#dia" x="770.3" y="110.7"/><text x="770.3" y="113.7">ITGB7</text></g>
<g id="n_ITGA4"><use class="r" href="#dia" x="828.7" y="135.7"/><text x="828.7" y="138.7">ITGA4</text></g>
<g id="n_ITGA9"><use class="r" href="#dia" x="591.7" y="180"/><text x="591.7" y="183">ITGA9</text></g>
<g id="n_ITGB1"><use class="r" href="#dia" x="859" y="185"/><text x="859" y="188">ITGB1</text></g>
<g id="n_ITGB6"><use class="r" href="#dia" x="603.7" y="259.7"/><text x="603.7" y="262.7">ITGB6</text></g>
<g id="n_ITGAV"><use class="r" href="#dia" x="765.7" y="252.3"/><text x="765.7" y="255.3">ITGAV</text></g>
<g id="n_ITGB3"><use class="r" href="#dia" x="694.7" y="292"/><text x="694.7" y="295">ITGB3</text></g>
<g id="n_GP1BA"><use class="r" href="#dia" x="74.3" y="485.7"/><text x="74.3" y="488.7">GP1BA</text></g>
<g id="n_CD93"><use class="r" href="#dia" x="127" y="535.3"/><text x="127" y="538.3">CD93</text></g>
<g id="n_CD44"><use class="r" href="#dia" x="115.7" y="640.7"/><text x="115.7" y="643.7">CD44</text></g>
<g id="n_ERBB4"><use class="r" href="#dia" x="383.3" y="433.3"/><text x="383.3" y="436.3">ERBB4</text></g>
<g id="n_ERBB2"><use class="r" href="#dia" x="329" y="556"/><text x="329" y="559">ERBB2</text></g>
<g id="n_ERBB3"><use class="r" href="#dia" x="529.3" y="439.7"/><text x="529.3" y="442.7">ERBB3</text></g>
<g id="n_EGFR"><use class="r" href="#dia" x="467.3" y="516.7"/><text x="467.3" y="519.7">EGFR</text></g>
<g id="n_PDGFRA"><use class="r" href="#dia" x="367.7" y="637.3"/><text x="367.7" y="640.3">PDGFRA</text></g>
<g id="n_PDGFRB"><use class="r" href="#dia" x="361" y="798.7"/><text x="361" y="801.7">PDGFRB</text></g>
<g id="n_NPR3"><use class="r" href="#dia" x="96.7" y="798.3"/><text x="96.7" y="801.3">NPR3</text></g>
<g id="n_NPR2"><use class="r" href="#dia" x="161" y="793.7"/><text x="161" y="796.7">NPR2</text></g>
<g id="n_CCR4"><use class="r" href="#dia" x="728.3" y="412.3"/><text x="728.3" y="415.3">CCR4</text></g>
<g id="n_CXCR4"><use class="r" href="#dia" x="746" y="485"/><text x="746" y="488">CXCR4</text></g>
<g id="n_CCR10"><use class="r" href="#dia" x="834" y="488.3"/><text x="834" y="491.3">CCR10</text></g>
<g id="n_BMPR1A"><use class="r" href="#dia" x="636.3" y="575.3"/><text x="636.3" y="578.3">BMPR1A</text></g>
<g id="n_BMPR1B"><use class="r" href="#dia" x="741" y="564.3"/><text x="741" y="567.3">BMPR1B</text></g>
<g id="n_FGFR3"><use class="r" href="#dia" x="600" y="803"/><text x="600" y="806">FGFR3</text></g>
<g id="n_FGFR1"><use class="r" href="#dia" x="670" y="803"/><text x="670" y="806">FGFR1</text></g>
<g id="n_FGFR4"><use class="r" href="#dia" x="739.7" y="803"/><text x="739.7" y="806">FGFR4</text></g>
<g id="n_FGFR2"><use class="r" href="#dia" x="809.7" y="803"/><text x="809.7" y="806">FGFR2</text></g>
<g id="n_FGFRL1"><use class="r" href="#dia" x="544" y="846"/><text x="544" y="849">FGFRL1</text></g>

<g id="n_NTSR2"><use class="r" href="#dia" x="105.7" y="1075.7"/><text x="105.7" y="1078.7">NTSR2</text></g>
<g id="n_NPFFR2"><use class="r" href="#dia" x="148.7" y="1075.7"/><text x="148.7" y="1078.7">NPFFR2</text></g>
<g id="n_NMUR1"><use class="r" href="#dia" x="191.7" y="1075.7"/><text x="191.7" y="1078.7">NMUR1</text></g>
<g id="n_ITGA1"><use class="r" href="#dia" x="234.7" y="1075.7"/><text x="234.7" y="1078.7">ITGA1</text></g>
<g id="n_ADAM22"><use class="r" href="#dia" x="277.7" y="1075.7"/><text x="277.7" y="1078.7">ADAM22</text></g>
<g id="n_NOTCH2"><use class="r" href="#dia" x="320.7" y="1075.7"/><text x="320.7" y="1078.7">NOTCH2</text></g>
<g id="n_CSF2RB"><use class="r" href="#dia" x="363.7" y="1075.7"/><text x="363.7" y="1078.7">CSF2RB</text></g>
<g id="n_IL27RA"><use class="r" href="#dia" x="406.7" y="1075.7"/><text x="406.7" y="1078.7">IL27RA</text></g>
<g id="n_IL17RA"><use class="r" href="#dia" x="449.7" y="1075.7"/><text x="449.7" y="1078.7">IL17RA</text></g>
<g id="n_IL22RA2"><use class="r" href="#dia" x="492.7" y="1075.7"/><text x="492.7" y="1078.7">IL22RA2</text></g>
<g id="n_INSR"><use class="r" href="#dia" x="535.7" y="1075.7"/><text x="535.7" y="1078.7">INSR</text></g>
<g id="n_IGF1R"><use class="r" href="#dia" x="578.7" y="1075.7"/><text x="578.7" y="1078.7">IGF1R</text></g>
<g id="n_IFNGR2"><use class="r" href="#dia" x="621.7" y="1075.7"/><text x="621.7" y="1078.7">IFNGR2</text></g>
<g id="n_CR2"><use class="r" href="#dia" x="664.7" y="1075.7"/><text x="664.7" y="1078.7">CR2</text></g>
<g id="n_MET"><use class="r" href="#dia" x="707.7" y="1075.7"/><text x="707.7" y="1078.7">MET</text></g>
<g id="n_GIPR"><use class="r" href="#dia" x="750.7" y="1075.7"/><text x="750.7" y="1078.7">GIPR</text></g>
<g id="n_CUBN"><use class="r" href="#dia" x="793.7" y="1075.7"/><text x="793.7" y="1078.7">CUBN</text></g>

<g id="n_ACVR1C"><use class="r" href="#dia" x="105.7" y="1213.3"/><text x="105.7" y="1216.3">ACVR1C</text></g>
<g id="n_GLP1R"><use class="r" href="#dia" x="148.7" y="1213.3"/><text x="148.7" y="1216.3">GLP1R</text></g>
<g id="n_ITGAM"><use class="r" href="#dia" x="191.7" y="1213.3"/><text x="191.7" y="1216.3">ITGAM</text></g>
<g id="n_EPOR"><use class="r" href="#dia" x="234.7" y="1213.3"/><text x="234.7" y="1216.3">EPOR</text></g>
<g id="n_EDA2R"><use class="r" href="#dia" x="277.7" y="1213.3"/><text x="277.7" y="1216.3">EDA2R</text></g>
<g id="n_CSF1R"><use class="r" href="#dia" x="320.7" y="1213.3"/><text x="320.7" y="1216.3">CSF1R</text></g>
<g id="n_CNTFR"><use class="r" href="#dia" x="363.7" y="1213.3"/><text x="363.7" y="1216.3">CNTFR</text></g>
<g id="n_ITGA2"><use class="r" href="#dia" x="406.7" y="1213.3"/><text x="406.7" y="1216.3">ITGA2</text></g>
<g id="n_CD40"><use class="r" href="#dia" x="449.7" y="1213.3"/><text x="449.7" y="1216.3">CD40</text></g>
<g id="n_CCR7"><use class="r" href="#dia" x="492.7" y="1213.3"/><text x="492.7" y="1216.3">CCR7</text></g>
<g id="n_APLNR"><use class="r" href="#dia" x="535.7" y="1213.3"/><text x="535.7" y="1216.3">APLNR</text></g>
<g id="n_ADCYAP1R1"><use class="r" href="#dia" x="578.7" y="1213.3"/><text x="578.7" y="1216.3">ADCYAP1R1</text></g>
<g id="n_GFRA4"><use class="r" href="#dia" x="621.7" y="1213.3"/><text x="621.7" y="1216.3">GFRA4</text></g>
<g id="n_AMOT"><use class="r" href="#dia" x="664.7" y="1213.3"/><text x="664.7" y="1216.3">AMOT</text></g>
<g id="n_PLAUR"><use class="r" href="#dia" x="707.7" y="1213.3"/><text x="707.7" y="1216.3">PLAUR</text></g>
<g id="n_OXTR"><use class="r" href="#dia" x="750.7" y="1213.3"/><text x="750.7" y="1216.3">OXTR</text></g>
<g id="n_NRXN1"><use class="r" href="#dia" x="793.7" y="1213.3"/><text x="793.7" y="1216.3">NRXN1</text></g>

<g id="n_ZP3R"><use class="r" href="#dia" x="105.7" y="1348"/><text x="105.7" y="1351">ZP3R</text></g>
<g id="n_TSHR"><use class="r" href="#dia" x="148.7" y="1348"/><text x="148.7" y="1351">TSHR</text></g>
<g id="n_TNFRSF13C"><use class="r" href="#dia" x="191.7" y="1348"/><text x="191.7" y="1351">TNFRSF13C</text></g>
<g id="n_MPL"><use class="r" href="#dia" x="234.7" y="1348"/><text x="234.7" y="1351">MPL</text></g>
<g id="n_SPN"><use class="r" href="#dia" x="277.7" y="1348"/><text x="277.7" y="1351">SPN</text></g>
<g id="n_DMBT1"><use class="r" href="#dia" x="320.7" y="1348"/><text x="320.7" y="1351">DMBT1</text></g>
<g id="n_FPR1"><use class="r" href="#dia" x="363.7" y="1348"/><text x="363.7" y="1351">FPR1</text></g>
<g id="n_RXFP4"><use class="r" href="#dia" x="406.7" y="1348"/><text x="406.7" y="1351">RXFP4</text></g>
<g id="n_RXFP1"><use class="r" href="#dia" x="449.7" y="1348"/><text x="449.7" y="1351">RXFP1</text></g>
<g id="n_PTH2R"><use class="r" href="#dia" x="492.7" y="1348"/><text x="492.7" y="1351">PTH2R</text></g>

<g id="n_PTPRC"><use class="r" href="#dia" x="161.3" y="1462.7"/><text x="161.3" y="1465.7">PTPRC</text></g>
<g id="n_EDNRA"><use class="r" href="#dia" x="275.7" y="1462.7"/><text x="275.7" y="1465.7">EDNRA</text></g>
<g id="n_DDR2"><use class="r" href="#dia" x="390" y="1462.7"/><text x="390" y="1465.7">DDR2</text></g>
<g id="n_CRHR1"><use class="r" href="#dia" x="495.7" y="1456.3"/><text x="495.7" y="1459.3">CRHR1</text></g>
<g id="n_CCR2"><use class="r" href="#dia" x="575.3" y="1269.7"/><text x="575.3" y="1272.7">CCR2</text></g>
<g id="n_RAMP2"><use class="r" href="#dia" x="637.3" y="1270.7"/><text x="637.3" y="1273.7">RAMP2</text></g>
<g id="n_NTRK2"><use class="r" href="#dia" x="699.3" y="1267.7"/><text x="699.3" y="1270.7">NTRK2</text></g>
<g id="n_MC3R"><use class="r" href="#dia" x="756.7" y="1265.7"/><text x="756.7" y="1268.7">MC3R</text></g>
<g id="n_TRHR"><use class="r" href="#dia" x="814.3" y="1266"/><text x="814.3" y="1269">TRHR</text></g>
<g id="n_CCR3"><use class="r" href="#dia" x="555.3" y="1394.3"/><text x="555.3" y="1397.3">CCR3</text></g>
<g id="n_RAMP1"><use class="r" href="#dia" x="617.3" y="1394.3"/><text x="617.3" y="1397.3">RAMP1</text></g>
<g id="n_SORT1"><use class="r" href="#dia" x="681.7" y="1396.7"/><text x="681.7" y="1399.7">SORT1</text></g>
<g id="n_MC5R"><use class="r" href="#dia" x="738.3" y="1401.7"/><text x="738.3" y="1404.7">MC5R</text></g>
<g id="n_TRHR2"><use class="r" href="#dia" x="797" y="1397"/><text x="797" y="1400">TRHR2</text></g>
<g id="n_ROBO4"><use class="r" href="#dia" x="806" y="1454.7"/><text x="806" y="1457.7">ROBO4</text></g>
<g id="n_ROBO1"><use class="r" href="#dia" x="745.3" y="1515"/><text x="745.3" y="1518">ROBO1</text></g>
<g id="n_ROBO2"><use class="r" href="#dia" x="815.7" y="1580"/><text x="815.7" y="1583">ROBO2</text></g>
<g id="n_TACR3"><use class="r" href="#dia" x="623" y="1521"/><text x="623" y="1524">TACR3</text></g>
<g id="n_TACR2"><use class="r" href="#dia" x="617.7" y="1628.7"/><text x="617.7" y="1631.7">TACR2</text></g>
<g id="n_TACR1"><use class="r" href="#dia" x="723" y="1614.3"/><text x="723" y="1617.3">TACR1</text></g>
<g id="n_IL20RB"><use class="r" href="#dia" x="133.7" y="1600.7"/><text x="133.7" y="1603.7">IL20RB</text></g>
<g id="n_NRP2"><use class="r" href="#dia" x="310.3" y="1604.3"/><text x="310.3" y="1607.3">NRP2</text></g>
<g id="n_FLT1"><use class="r" href="#dia" x="458.7" y="1616"/><text x="458.7" y="1619">FLT1</text></g>
<g id="n_IL1R2"><use class="r" href="#dia" x="267.3" y="1724"/><text x="267.3" y="1727">IL1R2</text></g>
<g id="n_IL1RAP"><use class="r" href="#dia" x="401.7" y="1719.3"/><text x="401.7" y="1722.3">IL1RAP</text></g>
<g id="n_IL2RA"><use class="r" href="#dia" x="101.3" y="1764.7"/><text x="101.3" y="1767.7">IL2RA</text></g>
<g id="n_IL2RG"><use class="r" href="#dia" x="259.7" y="1818.3"/><text x="259.7" y="1821.3">IL2RG</text></g>
<g id="n_IL9R"><use class="r" href="#dia" x="401.7" y="1815.3"/><text x="401.7" y="1818.3">IL9R</text></g>
<g id="n_IL21R"><use class="r" href="#dia" x="103.7" y="1845.3"/><text x="103.7" y="1848.3">IL21R</text></g>
<g id="n_ENG"><use class="r" href="#dia" x="673.7" y="1695.7"/><text x="673.7" y="1698.7">ENG</text></g>
<g id="n_ACVRL1"><use class="r" href="#dia" x="794.7" y="1687.3"/><text x="794.7" y="1690.3">ACVRL1</text></g>
<g id="n_GFRA1"><use class="r" href="#dia" x="602.3" y="1827"/><text x="602.3" y="1830">GFRA1</text></g>
<g id="n_GFRA2"><use class="r" href="#dia" x="782.3" y="1824"/><text x="782.3" y="1827">GFRA2</text></g>
</g>
</svg>
